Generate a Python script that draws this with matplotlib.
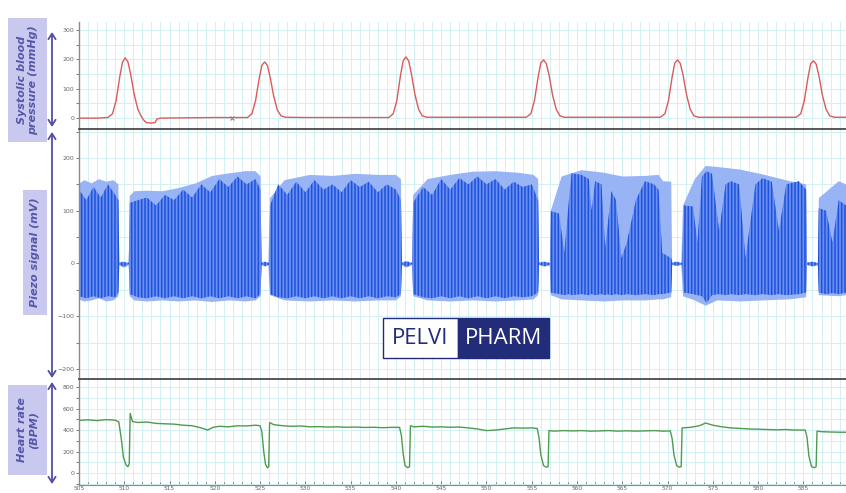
import matplotlib
matplotlib.use("Agg")
import matplotlib.pyplot as plt
from matplotlib.patches import Rectangle, FancyArrowPatch
from matplotlib.ticker import MultipleLocator

# ---------------- data ----------------
# Systolic blood pressure (mmHg) vs time (s)
bp_time = [505.0, 507.0, 508.2, 508.7, 509.1, 509.5, 509.8, 510.1, 510.4, 510.7, 511.1, 511.5, 511.9,
           512.1, 512.4, 512.9, 513.4, 513.6, 514.0, 517.0, 520.0, 523.0,
           523.6, 524.1, 524.5, 524.9, 525.2, 525.5, 525.8, 526.1, 526.5, 526.9, 527.3, 527.8,
           530.0, 535.0, 539.0,
           539.2, 539.7, 540.1, 540.5, 540.8, 541.1, 541.4, 541.7, 542.1, 542.5, 542.9, 543.4,
           548.0, 553.0,
           554.4, 554.9, 555.3, 555.7, 556.0, 556.3, 556.6, 556.9, 557.3, 557.7, 558.1, 558.6,
           563.0, 569.0,
           569.2, 569.7, 570.1, 570.5, 570.8, 571.1, 571.4, 571.7, 572.1, 572.5, 572.9, 573.4,
           578.0, 584.0,
           584.2, 584.7, 585.1, 585.5, 585.8, 586.1, 586.4, 586.7, 587.1, 587.5, 587.9, 588.4, 589.7]
bp_value = [0, 0, 2, 15, 60, 140, 190, 205, 192, 150, 80, 30, 5,
            -5, -15, -17, -15, -3, 0, 1, 2, 2,
            2, 15, 60, 135, 180, 191, 180, 140, 75, 28, 8, 3,
            2, 2, 2,
            2, 15, 60, 145, 195, 208, 195, 152, 80, 30, 8, 3,
            3, 3,
            3, 15, 60, 140, 188, 198, 186, 148, 78, 30, 8, 3,
            3, 3,
            3, 15, 60, 140, 188, 198, 186, 148, 78, 30, 8, 3,
            3, 3,
            3, 15, 60, 138, 185, 195, 184, 146, 77, 30, 8, 3, 3]
bp_marker_time = [521.9]
bp_marker_value = [2]

# Piezo signal (mV): outer (light) envelope
piezo_time = [504.9, 505.6, 506.4, 507.2, 508.0, 508.8, 509.35, 509.45, 509.9, 510.3, 510.5,
              510.6, 511.1, 512.5, 514.2, 516.0, 517.9, 519.7, 521.6, 523.4, 524.5, 525.05,
              525.15, 525.5, 525.9,
              526.1, 527.7, 530.5, 533.0, 535.5, 538.0, 540.0, 540.55,
              540.65, 541.1, 541.6, 541.8,
              541.9, 543.5, 546.0, 548.5, 551.0, 553.5, 555.2, 555.7,
              555.8, 556.4, 557.0,
              557.1, 558.3, 560.5, 563.0, 565.0, 567.5, 569.0, 569.5, 570.4,
              570.5, 571.0, 571.5,
              571.7, 573.0, 574.2, 575.5, 578.0, 580.5, 583.5, 585.3,
              585.4, 586.0, 586.6,
              586.7, 588.9, 589.7]
piezo_high = [150, 158, 152, 160, 155, 158, 150, 2, 4, -2, 3,
              128, 137, 138, 137, 143, 152, 166, 171, 175, 175, 165,
              2, 4, -1,
              124, 158, 168, 166, 170, 168, 168, 160,
              2, 5, -1, 3,
              130, 160, 168, 174, 175, 172, 168, 160,
              2, 4, -1,
              100, 165, 177, 172, 165, 166, 168, 156, 155,
              2, 4, -1,
              110, 160, 185, 183, 178, 169, 156, 150,
              2, 4, -1,
              124, 156, 150]
piezo_low = [-68, -72, -70, -66, -72, -70, -62, -3, -8, -6, -2,
             -62, -70, -72, -70, -72, -70, -73, -70, -72, -70, -62,
             -3, -6, -4,
             -60, -70, -72, -70, -72, -70, -70, -62,
             -3, -8, -5, -2,
             -62, -70, -72, -70, -72, -70, -68, -60,
             -3, -6, -4,
             -60, -68, -70, -72, -70, -70, -68, -68, -64,
             -3, -5, -3,
             -62, -70, -80, -70, -72, -70, -68, -64,
             -3, -6, -4,
             -60, -62, -60]

# Piezo signal: inner (dark, striped) envelope
inner_time = [505.0, 505.8, 506.6, 507.4, 508.2, 509.0, 509.35,
              509.45, 509.9, 510.5,
              510.6, 511.5, 512.5, 513.5, 514.5, 515.5, 516.5, 517.5, 518.5, 519.5, 520.5, 521.5,
              522.5, 523.5, 524.5, 525.05,
              525.15, 525.6, 526.0,
              526.1, 527.0, 528.0, 529.0, 530.0, 531.0, 532.0, 533.0, 534.0, 535.0, 536.0, 537.0,
              538.0, 539.0, 540.0, 540.55,
              540.65, 541.2, 541.8,
              541.9, 543.0, 544.0, 545.0, 546.0, 547.0, 548.0, 549.0, 550.0, 551.0, 552.0, 553.0,
              554.0, 555.0, 555.7,
              555.8, 556.4, 557.0,
              557.1, 558.0, 558.6, 559.1, 559.4, 560.5, 561.3, 561.6, 562.0, 562.7, 563.1, 563.3,
              563.8, 564.3, 564.9, 565.5, 566.5, 567.5, 568.5, 569.0, 569.4, 570.4,
              570.5, 571.0, 571.6,
              571.8, 572.8, 573.3, 573.8, 574.3, 574.9, 575.7, 576.4, 577.0, 577.9, 578.6, 579.7,
              580.5, 581.5, 582.3, 583.1, 584.5, 585.3,
              585.4, 586.0, 586.6,
              586.7, 587.5, 588.2, 588.9, 589.7]
inner_high = [140, 120, 145, 125, 150, 130, 120,
              1, 3, 1,
              115, 120, 125, 110, 130, 120, 140, 125, 150, 135, 160, 145, 165, 150, 160, 140,
              1, 3, 1,
              110, 150, 130, 155, 135, 158, 140, 150, 135, 158, 145, 155, 135, 150, 140, 120,
              1, 4, 1,
              115, 145, 130, 160, 140, 162, 150, 165, 150, 160, 140, 155, 145, 150, 120,
              1, 3, 1,
              99, 95, 20, 120, 171, 168, 160, 100, 156, 150, 29, 60,
              137, 120, 10, 40, 120, 156, 150, 140, 20, 10,
              1, 3, 1,
              110, 108, 40, 165, 175, 170, 61, 150, 156, 150, 10, 150,
              162, 155, 61, 150, 156, 140,
              1, 3, 1,
              105, 100, 40, 120, 110]
inner_low = [-62, -66, -62, -66, -62, -64, -55,
             -2, -6, -1,
             -58, -64, -66, -62, -66, -62, -66, -62, -66, -62, -66, -62, -66, -62, -66, -58,
             -2, -5, -2,
             -58, -64, -66, -62, -66, -62, -66, -62, -66, -62, -66, -62, -66, -62, -64, -58,
             -2, -6, -1,
             -58, -64, -66, -62, -66, -62, -66, -62, -66, -62, -66, -62, -64, -62, -55,
             -2, -5, -2,
             -55, -58, -60, -58, -60, -58, -60, -58, -60, -58, -60, -58,
             -60, -58, -60, -58, -60, -58, -60, -58, -58, -55,
             -2, -4, -2,
             -55, -58, -60, -62, -75, -60, -58, -60, -58, -60, -58, -60,
             -58, -60, -58, -60, -58, -55,
             -2, -5, -2,
             -55, -58, -56, -58, -55]

# Heart rate (BPM)
hr_time = [505.0, 506.0, 507.0, 508.0, 509.0, 509.4, 509.7, 509.9, 510.2, 510.4, 510.55, 510.65,
           510.9, 511.5, 512.5, 513.5, 514.5, 515.5, 516.5, 517.5, 518.5, 519.2, 519.8, 520.5,
           521.5, 522.5, 523.5, 524.5, 525.0, 525.2, 525.4, 525.6, 525.8, 525.95, 526.05,
           526.5, 527.5, 528.5, 529.5, 530.5, 531.5, 532.5, 533.5, 534.5, 535.5, 536.5, 537.5,
           538.5, 539.5, 540.4, 540.6, 540.8, 541.0, 541.3, 541.5, 541.6,
           542.0, 543.0, 544.0, 545.0, 546.0, 547.0, 548.0, 549.0, 550.0, 551.0, 552.0, 553.0,
           554.0, 555.0, 555.6, 555.8, 556.0, 556.3, 556.6, 556.8, 556.9,
           557.5, 558.5, 559.5, 560.5, 561.5, 562.5, 563.5, 564.5, 565.5, 566.5, 567.5, 568.5,
           569.5, 570.3, 570.5, 570.7, 571.0, 571.3, 571.5, 571.6,
           572.5, 573.5, 574.2, 575.0, 576.0, 577.0, 578.0, 579.0, 580.0, 581.0, 582.0, 583.0,
           584.0, 585.2, 585.4, 585.6, 585.9, 586.2, 586.4, 586.5,
           587.0, 588.0, 589.0, 589.7]
hr_value = [490, 495, 488, 497, 492, 475, 300, 150, 75, 60, 90, 555,
            480, 470, 475, 462, 458, 455, 445, 440, 420, 400, 425, 435,
            430, 440, 438, 445, 440, 380, 200, 80, 50, 60, 470,
            450, 440, 435, 438, 430, 432, 428, 430, 426, 428, 424, 426,
            422, 425, 425, 350, 180, 70, 50, 60, 440,
            430, 435, 428, 430, 426, 428, 420, 410, 395, 400, 410, 420,
            418, 420, 415, 330, 170, 70, 55, 60, 395,
            390, 395, 392, 395, 390, 392, 395, 390, 393, 390, 392, 395,
            390, 392, 320, 170, 70, 55, 60, 420,
            425, 440, 465, 445, 430, 420, 415, 410, 408, 405, 402, 405,
            400, 400, 330, 160, 60, 50, 60, 390,
            385, 382, 380, 380]

x_ticks = [505, 510, 515, 520, 525, 530, 535, 540, 545, 550, 555, 560, 565, 570, 575, 580, 585]
bp_ticks = [0, 100, 200, 300]
piezo_ticks = [-200, -100, 0, 100, 200]
hr_ticks = [0, 200, 400, 600, 800]

# ---------------- layout ----------------
W, H = 846, 493
plt.rcParams['hatch.linewidth'] = 1.1
fig = plt.figure(figsize=(W / 100, H / 100), dpi=100)
fig.patch.set_facecolor('white')


def box(x0, y0, x1, y1):
    return [x0 / W, 1 - y1 / H, (x1 - x0) / W, (y1 - y0) / H]


ax1 = fig.add_axes(box(79, 22, 846, 129))
ax2 = fig.add_axes(box(79, 129, 846, 379), sharex=ax1)
ax3 = fig.add_axes(box(79, 379, 846, 485), sharex=ax1)

grid_c = '#d2f1f2'
tick_c = '#666666'
for ax in (ax1, ax2, ax3):
    ax.set_facecolor('white')
    ax.grid(which='both', color=grid_c, lw=0.7)
    ax.set_axisbelow(True)
    ax.spines['right'].set_visible(False)
    ax.spines['left'].set_color('#8a8a8a')
    ax.spines['left'].set_linewidth(1.0)
    ax.tick_params(axis='y', which='major', direction='out', length=2.5, width=0.6,
                   labelsize=4.5, labelcolor=tick_c, color=tick_c, pad=1)
    ax.tick_params(axis='y', which='minor', direction='out', length=2.0, width=0.6, color=tick_c)
    ax.xaxis.set_minor_locator(MultipleLocator(1))
    ax.set_xticks(x_ticks)

for ax in (ax1, ax2):
    ax.spines['bottom'].set_visible(False)
    ax.tick_params(axis='x', which='both', length=0, labelbottom=False)
ax1.spines['top'].set_visible(False)
for ax in (ax2, ax3):
    ax.spines['top'].set_color('#4a4a4a')
    ax.spines['top'].set_linewidth(1.3)
ax3.spines['bottom'].set_color('#8a8a8a')
ax3.tick_params(axis='x', which='major', direction='in', length=3, width=0.6,
                labelsize=4.2, labelcolor=tick_c, color=tick_c, pad=0.8)
ax3.tick_params(axis='x', which='minor', direction='in', length=2, width=0.6, color=tick_c)

ax1.set_xlim(505, 589.7)

# top: BP
ax1.plot(bp_time, bp_value, color='#dc5a5a', lw=1.0)
ax1.plot(bp_marker_time, bp_marker_value, 'x', color='#888888', ms=3.5, mew=0.8)
ax1.set_ylim(-37, 327)
ax1.set_yticks(bp_ticks)
ax1.yaxis.set_minor_locator(MultipleLocator(50))

# middle: piezo
ax2.fill_between(piezo_time, piezo_low, piezo_high, facecolor='#98b4f4', edgecolor='none', lw=0)
ax2.fill_between(inner_time, inner_low, inner_high, facecolor='#6a8fee', edgecolor='#1e52de',
                 hatch='|||||', lw=0)
ax2.set_ylim(-219, 255)
ax2.set_yticks(piezo_ticks)
ax2.yaxis.set_minor_locator(MultipleLocator(50))

# bottom: heart rate
ax3.plot(hr_time, hr_value, color='#4f9a4f', lw=1.0)
ax3.set_ylim(-110, 874)
ax3.set_yticks(hr_ticks)
ax3.yaxis.set_minor_locator(MultipleLocator(100))

# ---------------- side labels ----------------
lab_bg = '#c9c9ef'
lab_fg = '#5656aa'
arrow_c = '#4f4fa6'


def side_label(x0, y0, x1, y1, text):
    fig.patches.append(Rectangle((x0 / W, 1 - y1 / H), (x1 - x0) / W, (y1 - y0) / H,
                                 transform=fig.transFigure, facecolor=lab_bg, edgecolor='none'))
    fig.text((x0 + x1) / 2 / W, 1 - (y0 + y1) / 2 / H, text, rotation=90, ha='center',
             va='center', fontsize=8, fontweight='bold', fontstyle='italic', color=lab_fg,
             linespacing=1.2, multialignment='center')


def side_arrow(y0, y1):
    fig.add_artist(FancyArrowPatch((52 / W, 1 - y0 / H), (52 / W, 1 - y1 / H),
                                   transform=fig.transFigure,
                                   arrowstyle='<->,head_length=4,head_width=2.6',
                                   color=arrow_c, lw=1.3, shrinkA=0, shrinkB=0))


side_label(8, 18, 47, 142, 'Systolic blood\npressure (mmHg)')
side_label(23, 190, 47, 315, 'Piezo signal (mV)')
side_label(8, 385, 47, 475, 'Heart rate\n(BPM)')
side_arrow(32, 127)
side_arrow(132, 378)
side_arrow(382, 484)

# ---------------- logo ----------------
navy = '#222c78'
fig.patches.append(Rectangle((383 / W, 1 - 358 / H), 75 / W, 40 / H, transform=fig.transFigure,
                             facecolor='white', edgecolor=navy, lw=1.0, zorder=5))
fig.patches.append(Rectangle((458 / W, 1 - 358 / H), 91 / W, 40 / H, transform=fig.transFigure,
                             facecolor=navy, edgecolor=navy, lw=1.0, zorder=5))
fig.text(420.5 / W, 1 - 338.5 / H, 'PELVI', ha='center', va='center', fontsize=16,
         color=navy, zorder=6, family='Open Sans')
fig.text(503.5 / W, 1 - 338.5 / H, 'PHARM', ha='center', va='center', fontsize=16,
         color='white', zorder=6, family='Open Sans')

fig.savefig('out.png', dpi=100, facecolor='white')
